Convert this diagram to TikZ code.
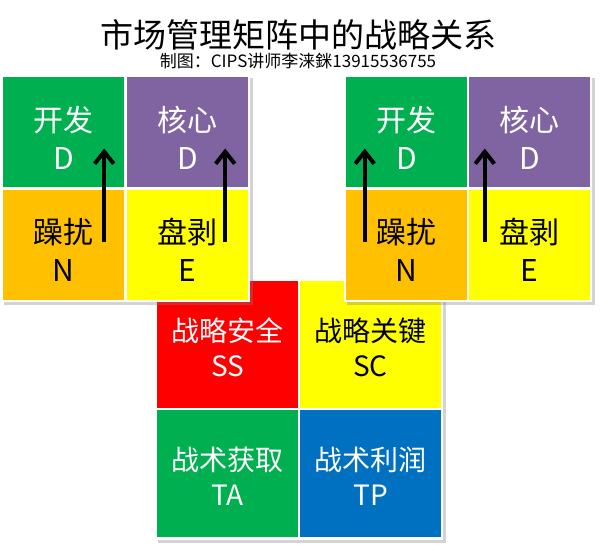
\documentclass[tikz,border=0pt]{standalone}
\usepackage{fontspec}
\setmainfont{Noto Sans CJK SC}
\usetikzlibrary{arrows.meta, shadows, backgrounds}
\tikzset{>=latex}

\definecolor{mgreen}{HTML}{00B050}
\definecolor{mpurple}{HTML}{8064A2}
\definecolor{morange}{HTML}{FFC000}
\definecolor{myellow}{HTML}{FFFF00}
\definecolor{mred}{HTML}{FF0000}
\definecolor{mblue}{HTML}{0070C0}

\tikzset{
    cell/.style={rectangle, inner sep=0pt, minimum width=121pt, minimum height=110pt},
    bigcell/.style={cell, minimum width=141pt, minimum height=127pt},
    celltext/.style={inner sep=0pt, align=center, font=\fontsize{30}{32}\selectfont},
    bigtext/.style={celltext, font=\fontsize{28}{32}\selectfont},
    frame/.style={fill=white, drop shadow={shadow xshift=3pt, shadow yshift=-3pt, opacity=0.35, fill=gray}},
    uparrow/.style={-{Straight Barb[width=19pt,length=12pt,line width=4pt]}, line width=4pt, black}
}

\begin{document}
\begin{tikzpicture}[x=1pt, y=-1pt]
    \useasboundingbox (0,0) rectangle (600,544);

    \node[font=\fontsize{33}{36}\selectfont] (title) at (298,35) {市场管理矩阵中的战略关系};
    \node[font=\fontsize{17}{19}\selectfont] (author) at (298,61) {制图：CIPS讲师李涞銤13915536755};

    % bottom matrix
    \filldraw[frame, draw=none] (155,279) rectangle (443,540);
    \node[bigcell, fill=mred] (SS) at (227.5,344.5) {};
    \node[bigcell, fill=myellow] (SC) at (370.5,344.5) {};
    \node[bigcell, fill=mgreen] (TA) at (227.5,473.5) {};
    \node[bigcell, fill=mblue] (TP) at (370.5,473.5) {};
    \node[bigtext, text=white] (SSt) at ([yshift=-3pt]SS.center) {战略安全\\[3pt]SS};
    \node[bigtext] (SCt) at ([yshift=-3pt]SC.center) {战略关键\\[3pt]SC};
    \node[bigtext, text=white] (TAt) at ([yshift=-3pt]TA.center) {战术获取\\[3pt]TA};
    \node[bigtext, text=white] (TPt) at ([yshift=-3pt]TP.center) {战术利润\\[3pt]TP};

    % top left matrix
    \filldraw[frame, draw=none] (1,75) rectangle (250,302);
    \node[cell, fill=mgreen] (lD) at (63.5,131.5) {};
    \node[cell, fill=mpurple] (lC) at (187.5,131.5) {};
    \node[cell, fill=morange] (lN) at (63.5,245) {};
    \node[cell, fill=myellow] (lE) at (187.5,245) {};
    \node[celltext, text=white] (lDt) at ([yshift=-6pt]lD.center) {开发\\[6pt]D};
    \node[celltext, text=white] (lCt) at ([yshift=-6pt]lC.center) {核心\\[6pt]D};
    \node[celltext] (lNt) at ([yshift=-5pt]lN.center) {躁扰\\[6pt]N};
    \node[celltext] (lEt) at ([yshift=-5pt]lE.center) {盘剥\\[6pt]E};
    \draw[uparrow] ([xshift=-20pt, yshift=3pt]lN.east) -- ([xshift=-20pt, yshift=-17pt]lD.east);
    \draw[uparrow] ([xshift=-23pt, yshift=3pt]lE.east) -- ([xshift=-23pt, yshift=-17pt]lC.east);

    % top right matrix
    \filldraw[frame, draw=none] (344,75) rectangle (592,302);
    \node[cell, fill=mgreen] (rD) at (406.5,131.5) {};
    \node[cell, fill=mpurple] (rC) at (529.5,131.5) {};
    \node[cell, fill=morange] (rN) at (406.5,245) {};
    \node[cell, fill=myellow] (rE) at (529.5,245) {};
    \node[celltext, text=white] (rDt) at ([yshift=-6pt]rD.center) {开发\\[6pt]D};
    \node[celltext, text=white] (rCt) at ([yshift=-6pt]rC.center) {核心\\[6pt]D};
    \node[celltext] (rNt) at ([yshift=-5pt]rN.center) {躁扰\\[6pt]N};
    \node[celltext] (rEt) at ([yshift=-5pt]rE.center) {盘剥\\[6pt]E};
    \draw[uparrow] ([xshift=19pt, yshift=3pt]rN.west) -- ([xshift=19pt, yshift=-17pt]rD.west);
    \draw[uparrow] ([xshift=16pt, yshift=3pt]rE.west) -- ([xshift=16pt, yshift=-17pt]rC.west);
\end{tikzpicture}
\end{document}
